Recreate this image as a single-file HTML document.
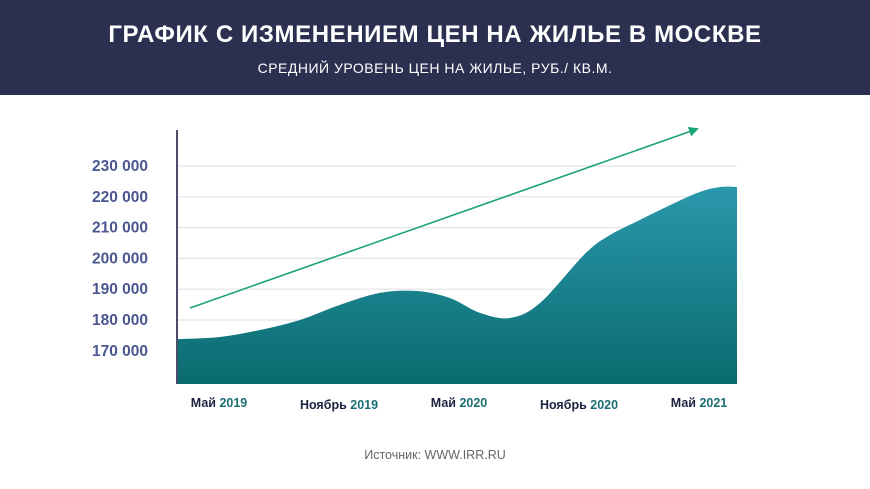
<!DOCTYPE html>
<html><head><meta charset="utf-8"><style>
body{margin:0;width:870px;height:489px;overflow:hidden;background:#fff;font-family:"Liberation Sans",sans-serif}
#hdr{position:absolute;left:0;top:0;width:870px;height:95px;background:#2c3050}
#t{position:absolute;top:21px;width:870px;text-align:center;color:#fff;font-weight:bold;font-size:24px;letter-spacing:0.6px}
#st{position:absolute;top:60px;width:870px;text-align:center;color:#fff;font-size:14px;letter-spacing:0.5px}
</style></head><body>
<div id="hdr">
<div id="t">ГРАФИК С ИЗМЕНЕНИЕМ ЦЕН НА ЖИЛЬЕ В МОСКВЕ</div>
<div id="st">СРЕДНИЙ УРОВЕНЬ ЦЕН НА ЖИЛЬЕ, РУБ./ КВ.М.</div>
</div>
<svg id="c" width="870" height="489" style="position:absolute;left:0;top:0">
<defs><linearGradient id="g" x1="0" y1="0" x2="0" y2="1"><stop offset="0" stop-color="#2a98ac"/><stop offset="1" stop-color="#0a6b6f"/></linearGradient>
<marker id="ah" markerWidth="10" markerHeight="10" refX="8" refY="5" orient="auto" markerUnits="userSpaceOnUse"><path d="M0,0 L10,5 L0,10 Z" fill="#1aa574"/></marker></defs>
</svg>
<script>
const yTicks=[170000,180000,190000,200000,210000,220000,230000];
const yTickLabels=["170 000","180 000","190 000","200 000","210 000","220 000","230 000"];
const xTickMonths=[0,6,12,18,24];
const xTickMonthLabels=["Май","Ноябрь","Май","Ноябрь","Май"];
const xTickYearLabels=["2019","2019","2020","2020","2021"];
const months=[-2.1,0.05,2.05,4.05,6.05,8.05,9.9,11.55,13.05,14.55,16.05,18.3,19.55,21.05,22.55,24.05,25.05,25.9];
const prices=[173800,174500,176750,180000,184900,188800,189400,187100,182300,180650,185500,201500,207600,212500,217300,221600,223200,223200];
const NS="http://www.w3.org/2000/svg",svg=document.getElementById('c');
const X=m=>219+m*20, Y=v=>166+(230000-v)/10000*30.8;
const base=384,x0=177,x1=737;
function mk(t,a){const e=document.createElementNS(NS,t);for(const k in a)e.setAttribute(k,a[k]);svg.appendChild(e);return e;}
yTicks.forEach((v,i)=>{
 const l=mk('line',{x1:x0,x2:x1,y1:Y(v),y2:Y(v),stroke:'#e3e3e6','stroke-width':1.2});
 
 
 const t=mk('text',{x:148,y:Y(v)+5,'text-anchor':'end','font-size':15.5,'font-weight':'bold',fill:'#4a5690'});
 t.textContent=yTickLabels[i];
 
 
});
const pts=months.map((m,i)=>[X(m),Y(prices[i])]);
let d=`M${x0},${base} L${pts[0][0]},${pts[0][1]}`;
for(let i=0;i<pts.length-1;i++){
 const p0=pts[Math.max(0,i-1)],p1=pts[i],p2=pts[i+1],p3=pts[Math.min(pts.length-1,i+2)];
 const c1=[p1[0]+(p2[0]-p0[0])/6,p1[1]+(p2[1]-p0[1])/6],c2=[p2[0]-(p3[0]-p1[0])/6,p2[1]-(p3[1]-p1[1])/6];
 d+=` C${c1[0]},${c1[1]} ${c2[0]},${c2[1]} ${p2[0]},${p2[1]}`;
}
d+=` L${pts[pts.length-1][0]},${base} Z`;
const a=mk('path',{d:d,fill:'url(#g)'});


const ax=mk('line',{x1:x0,x2:x0,y1:130,y2:base,stroke:'#4a4e6a','stroke-width':2});


const tr=mk('line',{x1:190,y1:308,x2:697,y2:129,stroke:'#1aa574','stroke-width':1.6,'marker-end':'url(#ah)'});


xTickMonths.forEach((m,i)=>{
 const t=mk('text',{x:X(m),y:i%2?409:407,'text-anchor':'middle','font-size':12.5,'font-weight':'bold',fill:'#1c2340'});
 t.innerHTML=xTickMonthLabels[i]+' <tspan fill="#1b6f73">'+xTickYearLabels[i]+'</tspan>';
 
 
});
const s=mk('text',{x:435,y:459,'text-anchor':'middle','font-size':12.5,fill:'#666'});
s.textContent='Источник: WWW.IRR.RU';


</script>
</body></html>
